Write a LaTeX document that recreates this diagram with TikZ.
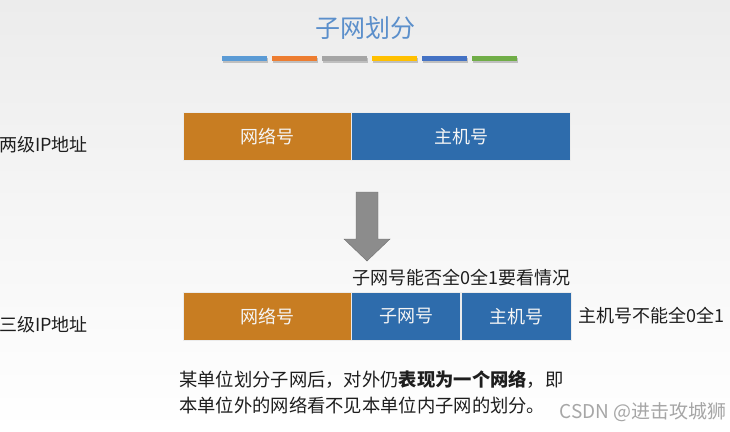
\documentclass[tikz,border=0pt]{standalone}
\usepackage{fontspec}
\setmainfont{Noto Sans CJK SC}
\usetikzlibrary{positioning}

\definecolor{titleblue}{HTML}{5B8FCB}
\definecolor{netorange}{HTML}{C87D22}
\definecolor{hostblue}{HTML}{2E6CAC}
\definecolor{arrowgray}{HTML}{8C8C8C}
\definecolor{textblack}{HTML}{1E1E1E}
\definecolor{bgtop}{HTML}{ECECEC}

\tikzset{
  field/.style={draw=white!85!gray, line width=0.6pt, text=white!92!gray,
    minimum height=48pt, inner sep=0pt, font=\fontsize{18}{20}\selectfont},
  netbox/.style={field, fill=netorange},
  hostbox/.style={field, fill=hostblue},
  label/.style={text=textblack, inner sep=0pt, font=\fontsize{18}{20}\selectfont}
}

\begin{document}
\begin{tikzpicture}[x=1pt, y=-1pt] % 1 单位 = 1 像素, y 向下
    % --- 背景 ---
    \shade[top color=bgtop, bottom color=white] (0,0) rectangle (730,431);
    \useasboundingbox (0,0) rectangle (730,431);

    % --- 标题和彩色条 ---
    \node[titleblue, font=\fontsize{25}{27}\selectfont] (title) at (365,28) {子网划分};
    \foreach \c [count=\i from 0] in {5B9BD5,ED7D31,A5A5A5,FFC000,4472C4,70AD47} {
        \definecolor{barcol}{HTML}{\c}
        \fill[black!25] (223+50*\i,57.5) rectangle ++(45,5);
        \fill[barcol] (222+50*\i,56) rectangle ++(45,5);
    }

    % --- 两级 IP 地址 ---
    \node[label, anchor=west] (lvltwo) at (-1,145) {两级IP地址};
    \node[netbox, minimum width=168pt] (netA) at (267,136.5) {网络号};
    \node[hostbox, minimum width=219pt, right=0pt of netA] (hostA) {主机号};

    % --- 向下的箭头 ---
    \fill[arrowgray, draw=arrowgray!80!black, line width=0.4pt]
        (356,192) -- (378,192) -- (378,239) -- (390,239)
        -- (367,261) -- (344,239) -- (356,239) -- cycle;

    % --- 三级 IP 地址 ---
    \node[label, anchor=west] (lvlthree) at (-1,325) {三级IP地址};
    \node[netbox, minimum width=168pt] (netB) at (267,316.5) {网络号};
    \node[hostbox, minimum width=109pt, right=0pt of netB] (subB) {子网号};
    \node[hostbox, minimum width=110pt, right=0pt of subB] (hostB) {主机号};

    % --- 说明文字 ---
    \node[label, anchor=west] (subnote) at (352,278) {子网号能否全0全1要看情况};
    \node[label, anchor=west] (hostnote) at (578,316) {主机号不能全0全1};
    \node[label, anchor=north west, align=left,
          font=\fontsize{18.3}{26}\selectfont] (summary) at (179,370)
        {某单位划分子网后，对外仍\textbf{表现为一个网络}，即\\
         本单位外的网络看不见本单位内子网的划分。};

    % --- 水印 ---
    \node[gray!70, inner sep=0pt, font=\fontsize{19}{21}\selectfont,
          anchor=east] (mark) at (727,412) {CSDN @进击攻城狮};

\end{tikzpicture}
\end{document}
